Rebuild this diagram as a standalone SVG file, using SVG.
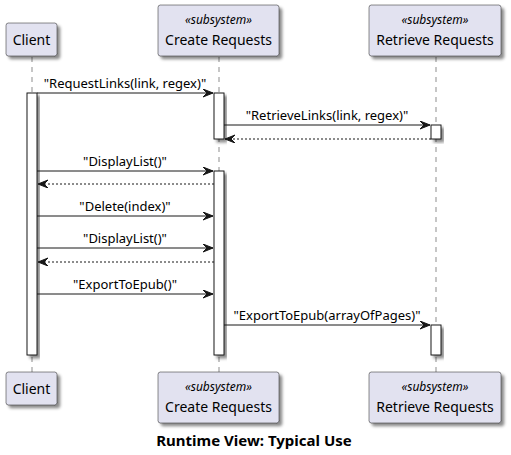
<svg xmlns="http://www.w3.org/2000/svg" width="511" height="455" viewBox="0 0 511 455">
<defs>
<filter id="sh" x="-20%" y="-20%" width="150%" height="150%">
<feDropShadow dx="3" dy="3" stdDeviation="1.8" flood-color="#000" flood-opacity="0.45"/>
</filter>
<marker id="ah" markerWidth="12" markerHeight="10" refX="10" refY="4" orient="auto" markerUnits="userSpaceOnUse">
<polygon points="0,0 10,4 0,8 4,4" fill="#181818" stroke="#181818" stroke-width="1"/>
</marker>
<style>
.box{fill:#E2E2F0;stroke:#181818;stroke-width:0.5;filter:url(#sh)}
.bar{fill:#FFFFFF;stroke:#181818;stroke-width:1;filter:url(#sh)}
.life{stroke:#181818;stroke-width:0.5;stroke-dasharray:5,5;fill:none}
.msg{stroke:#181818;stroke-width:1;fill:none;marker-end:url(#ah)}
.ret{stroke:#181818;stroke-width:1;fill:none;stroke-dasharray:2,2;marker-end:url(#ah)}
.name{font-family:"Noto Sans","DejaVu Sans",sans-serif;font-size:14px;fill:#000;text-anchor:middle}
.st{font-family:"Noto Sans","DejaVu Sans",sans-serif;font-size:12px;font-style:italic;fill:#000;text-anchor:middle}
.lbl{font-family:"Noto Sans","DejaVu Sans",sans-serif;font-size:13px;fill:#000;text-anchor:middle}
.title{font-family:"Noto Sans","DejaVu Sans",sans-serif;font-size:15px;font-weight:bold;fill:#000;text-anchor:middle}
</style>
</defs>
<rect width="511" height="455" fill="#FFFFFF"/>
<g id="lifelines">
<line class="life" x1="32" y1="57" x2="32" y2="372"/>
<line class="life" x1="219" y1="57" x2="219" y2="372"/>
<line class="life" x1="436" y1="57" x2="436" y2="372"/>
</g>
<g id="client">
<rect class="box" x="6" y="23" width="51" height="33" rx="2.5"/>
<text class="name" x="31.5" y="45">Client</text>
<rect class="box" x="6" y="372" width="51" height="33" rx="2.5"/>
<text class="name" x="31.5" y="394">Client</text>
</g>
<g id="create-requests">
<rect class="box" x="158" y="5" width="121" height="51" rx="2.5"/>
<text class="st" x="218.5" y="24">«subsystem»</text>
<text class="name" x="218.5" y="45">Create Requests</text>
<rect class="box" x="158" y="372" width="121" height="51" rx="2.5"/>
<text class="st" x="218.5" y="391">«subsystem»</text>
<text class="name" x="218.5" y="412">Create Requests</text>
</g>
<g id="retrieve-requests">
<rect class="box" x="369" y="5" width="132" height="51" rx="2.5"/>
<text class="st" x="435" y="24">«subsystem»</text>
<text class="name" x="435" y="45">Retrieve Requests</text>
<rect class="box" x="369" y="372" width="132" height="51" rx="2.5"/>
<text class="st" x="435" y="391">«subsystem»</text>
<text class="name" x="435" y="412">Retrieve Requests</text>
</g>
<g id="activations">
<rect class="bar" x="27" y="93" width="10" height="262"/>
<rect class="bar" x="214" y="93" width="10" height="46"/>
<rect class="bar" x="214" y="171" width="10" height="184"/>
<rect class="bar" x="431" y="125" width="10" height="14"/>
<rect class="bar" x="431" y="325" width="10" height="30"/>
</g>
<g id="connectors">
<line class="msg" x1="37" y1="93" x2="213" y2="93"/>
<text class="lbl" x="125" y="88">"RequestLinks(link, regex)"</text>
<line class="msg" x1="224" y1="125" x2="430" y2="125"/>
<text class="lbl" x="327" y="120">"RetrieveLinks(link, regex)"</text>
<line class="ret" x1="431" y1="139" x2="225" y2="139"/>
<line class="msg" x1="37" y1="171" x2="213" y2="171"/>
<text class="lbl" x="125" y="166">"DisplayList()"</text>
<line class="ret" x1="214" y1="184" x2="38" y2="184"/>
<line class="msg" x1="37" y1="216" x2="213" y2="216"/>
<text class="lbl" x="125" y="211">"Delete(index)"</text>
<line class="msg" x1="37" y1="248" x2="213" y2="248"/>
<text class="lbl" x="125" y="243">"DisplayList()"</text>
<line class="ret" x1="214" y1="262" x2="38" y2="262"/>
<line class="msg" x1="37" y1="294" x2="213" y2="294"/>
<text class="lbl" x="125" y="289">"ExportToEpub()"</text>
<line class="msg" x1="224" y1="325" x2="430" y2="325"/>
<text class="lbl" x="327" y="320">"ExportToEpub(arrayOfPages)"</text>
</g>
<text class="title" x="254" y="446">Runtime View: Typical Use</text>
</svg>
